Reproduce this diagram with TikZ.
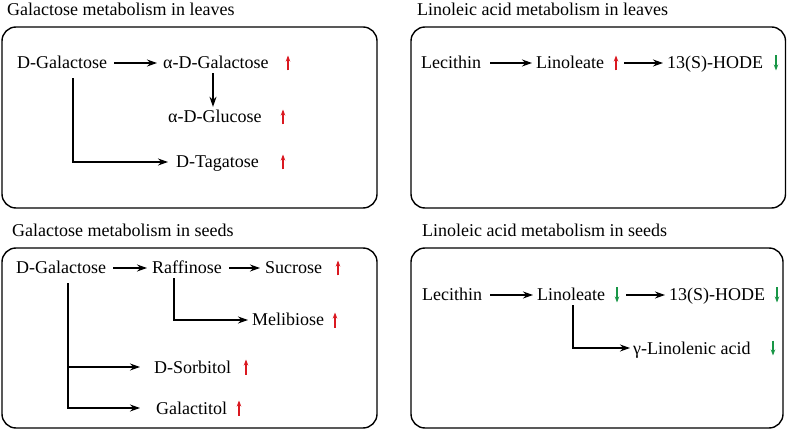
\documentclass[tikz,border=0pt]{standalone}
\usepackage{fontspec}
\setmainfont{Liberation Serif}
\usetikzlibrary{arrows.meta}
\definecolor{uprd}{RGB}{218,24,32}
\definecolor{dngr}{RGB}{24,150,70}

\begin{document}
\begin{tikzpicture}[x=1pt, y=-1pt,
  panel/.style={draw, line width=1.4pt, rounded corners=14pt},
  hd/.style={anchor=west, inner sep=0pt, font=\fontsize{18}{21}\selectfont},
  met/.style={anchor=west, inner sep=0pt, text height=12pt, text depth=0pt,
              font=\fontsize{18}{21}\selectfont},
  arr/.style={-{Stealth[length=10pt, width=7pt]}, line width=1.2pt},
  uparr/.pic={\draw[uprd, line width=1.3pt, -{Stealth[length=6pt, width=4.5pt]}] (0,7.5) -- (0,-7.5);},
  dnarr/.pic={\draw[dngr, line width=1.3pt, -{Stealth[length=6pt, width=4.5pt]}] (0,-7.5) -- (0,7.5);},
]
\useasboundingbox (0,0) rectangle (787,430);

% galactose, leaves
\node[hd] (h1) at (7,9) {Galactose metabolism in leaves};
\draw[panel] (2,27) rectangle (377,208);
\node[met] (dg) at (17,63) {D-Galactose};
\node[met] (adg) at (163,63) {α-D-Galactose};
\node[met] (adgl) at (168,117) {α-D-Glucose};
\node[met] (dt) at (176,162) {D-Tagatose};
\pic at (288,63) {uparr};
\pic at (283,117) {uparr};
\pic at (283,162) {uparr};
\draw[arr, shorten <=7pt, shorten >=6pt] (dg) -- (adg);
\coordinate (adgx) at ([xshift=50pt]adg.south west);
\draw[arr, shorten <=4pt, shorten >=4pt] (adgx) -- (adgx |- adgl.north);
\draw[arr, shorten <=9pt, shorten >=8pt] ([xshift=56pt]dg.south west) |- (dt);

% linoleic acid, leaves
\node[hd] (h2) at (417,9) {Linoleic acid metabolism in leaves};
\draw[panel] (411,27) rectangle (785.5,208);
\node[met] (lec) at (421,63) {Lecithin};
\node[met] (lin) at (536,63) {Linoleate};
\node[met] (hode) at (667,63) {13(S)-HODE};
\pic at (616,63) {uparr};
\pic at (776,63) {dnarr};
\draw[arr, shorten <=9pt, shorten >=4pt] (lec) -- (lin);
\draw[arr, shorten <=20pt, shorten >=4pt] (lin) -- (hode);

% galactose, seeds
\node[hd] (h3) at (12,230) {Galactose metabolism in seeds};
\draw[panel] (2,248) rectangle (377,428);
\node[met] (dg2) at (16,268) {D-Galactose};
\node[met] (raf) at (152,268) {Raffinose};
\node[met] (suc) at (265,268) {Sucrose};
\node[met] (mel) at (252,320) {Melibiose};
\node[met] (ds) at (154,367) {D-Sorbitol};
\node[met] (gt) at (156,408) {Galactitol};
\pic at (338,268) {uparr};
\pic at (335,320) {uparr};
\pic at (246,367) {uparr};
\pic at (239,408) {uparr};
\draw[arr, shorten <=7pt, shorten >=5pt] (dg2) -- (raf);
\draw[arr, shorten <=7pt, shorten >=5pt] (raf) -- (suc);
\draw[arr, shorten <=4pt, shorten >=4pt] ([xshift=22pt]raf.south west) |- (mel);
\coordinate (trunk) at ([xshift=52pt]dg2.south west);
\draw[arr, shorten <=9pt, shorten >=16pt] (trunk) |- (gt);
\draw[arr, shorten >=14pt] (trunk |- ds) -- (ds);

% linoleic acid, seeds
\node[hd] (h4) at (422,230) {Linoleic acid metabolism in seeds};
\draw[panel] (411,248) rectangle (783,428);
\node[met] (lec2) at (422,295) {Lecithin};
\node[met] (lin2) at (537,295) {Linoleate};
\node[met] (hode2) at (669,295) {13(S)-HODE};
\node[met] (gla) at (633,348) {γ-Linolenic acid};
\pic at (617,295) {dnarr};
\pic at (777,295) {dnarr};
\pic at (773,348) {dnarr};
\draw[arr, shorten <=8pt, shorten >=4pt] (lec2) -- (lin2);
\draw[arr, shorten <=21pt, shorten >=4pt] (lin2) -- (hode2);
\draw[arr, shorten <=4pt, shorten >=3pt] ([xshift=36pt]lin2.south west) |- (gla);
\end{tikzpicture}
\end{document}
